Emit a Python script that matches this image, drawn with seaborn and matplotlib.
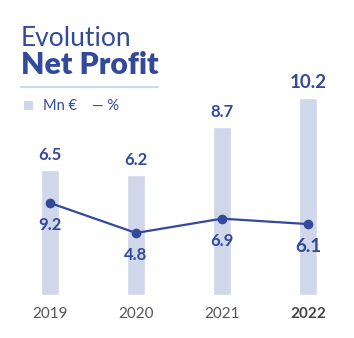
import matplotlib
matplotlib.use("Agg")
import matplotlib.pyplot as plt
import seaborn as sns
import pandas as pd
import numpy as np

years = ["2019", "2020", "2021", "2022"]
profit_mn = [6.5, 6.2, 8.7, 10.2]
margin_pct = [9.2, 4.8, 6.9, 6.1]

BAR = "#D0D7EA"
BLUE = "#33499A"
GREY = "#555555"

sns.set_theme(style="white")
plt.rcParams['font.family'] = ['Lato', 'DejaVu Sans']

W, H = 354, 338
fig = plt.figure(figsize=(W / 100, H / 100), dpi=100)

def fy(py):
    return (H - py) / H

ax_bot, ax_top = 295, 40
ax = fig.add_axes([0, fy(ax_bot), 1, (ax_bot - ax_top) / H])
df = pd.DataFrame({"year": years, "profit": profit_mn, "pct": margin_pct, "x": np.arange(len(years))})
sns.barplot(data=df, x="year", y="profit", color=BAR, width=0.21, saturation=1, ax=ax)
ax.set_xlim(-50 / 86, 3 + 46 / 86)
ax.set_ylim(0, (ax_bot - ax_top) / 19.3)

ax2 = ax.twinx()
sns.lineplot(data=df, x="x", y="pct", color=BLUE, linewidth=1.6, marker="o",
             markersize=7, markeredgewidth=0, ax=ax2)
ax2.set_ylim(-4.30, 33.1)
ax.set_xlim(-50 / 86, 3 + 46 / 86)

for a in (ax, ax2):
    for s in a.spines.values():
        s.set_visible(False)
    a.set_yticks([])
    a.set_ylabel("")
    a.set_xlabel("")

ax.set_xticks(range(len(years)))
ax.set_xticklabels(years)
ax.tick_params(axis="x", length=0, pad=9, labelsize=11, labelcolor=GREY, labelbottom=True)
for i, lbl in enumerate(ax.get_xticklabels()):
    if i == len(years) - 1:
        lbl.set_fontweight("bold")
        lbl.set_color("#444444")

# value labels
for i, (v, p) in enumerate(zip(profit_mn, margin_pct)):
    last = i == len(years) - 1
    ax.annotate(f"{v:.1f}", (i, v), xytext=(0, 5), textcoords="offset points",
                ha="center", va="bottom", color=BLUE, fontweight="bold",
                fontsize=13.5 if last else 12)
    ax2.annotate(f"{p:.1f}", (i, p), xytext=(0, -10), textcoords="offset points",
                 ha="center", va="top", color=BLUE, fontweight="bold",
                 fontsize=13.5 if last else 12)

# title
fig.text(21 / W, fy(46), "Evolution", fontsize=19, fontweight="normal", color=BLUE, va="baseline")
fig.text(21 / W, fy(74), "Net Profit", fontsize=21.8, fontweight="heavy", color=BLUE, va="baseline")
fig.add_artist(plt.Line2D([21 / W, 158 / W], [fy(87), fy(87)], color=BAR, linewidth=1.5))

# legend
fig.add_artist(plt.Rectangle((24 / W, fy(110)), 9 / W, 9 / H, color=BAR, linewidth=0))
fig.text(43 / W, fy(105.5), "Mn €", fontsize=10.5, color=BLUE, va="center")
fig.text(92 / W, fy(105.5), "— %", fontsize=10.5, color=BLUE, va="center")

fig.savefig("out.png", dpi=100)
